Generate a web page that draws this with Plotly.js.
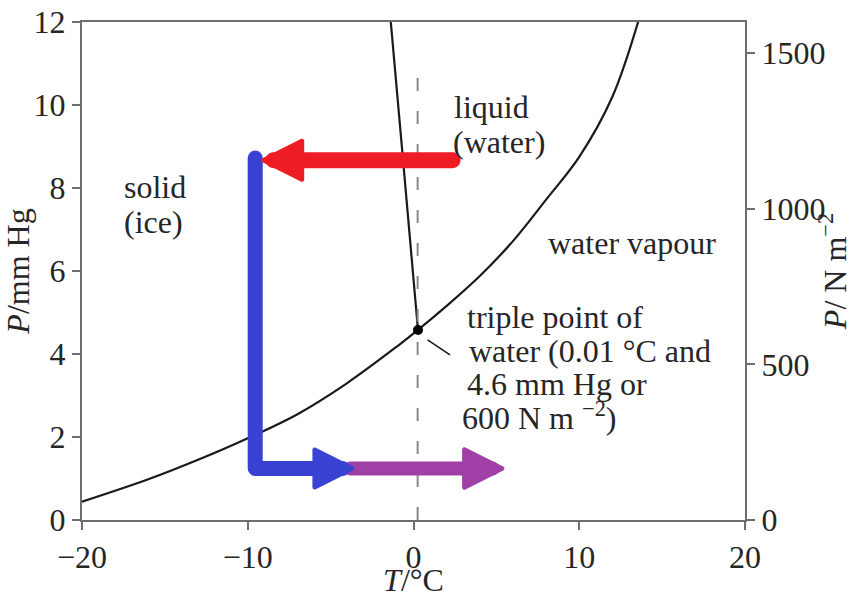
<!DOCTYPE html>
<html>
<head>
<meta charset="utf-8">
<script src="https://cdn.plot.ly/plotly-3.0.1.min.js"></script>
<style>html,body{margin:0;padding:0;background:#fff;}#chart{width:853px;height:598px;}</style>
</head>
<body>
<div id="chart"></div>
<script>
// Sublimation / vaporisation curve (T in °C, P in mm Hg)
const vapT = [-20, -16, -13, -10, -7, -4, -1, 0.27, 2, 4, 6, 8, 10, 12, 13.55];
const vapP = [0.44, 0.98, 1.45, 1.97, 2.55, 3.3, 4.18, 4.58, 5.16, 5.88, 6.72, 7.72, 8.75, 10.2, 12.0];
// Melting (fusion) curve
const meltT = [0.27, -0.63, -1.37];
const meltP = [4.58, 8.67, 12.0];
// Triple point
const tripleT = [0.27];
const tripleP = [4.58];
// Process path (arrows): red cooling at constant P, blue pressure drop then warming, purple warming
const redFrom = [2.45, 8.67], redTo = [-9.05, 8.67];
const blueDownT = [-9.55, -9.55, -6.0];
const blueDownP = [8.72, 1.24, 1.24];
const blueFrom = [-9.55, 1.24], blueTo = [-3.7, 1.24];
const purpleFrom = [-3.9, 1.24], purpleTo = [5.35, 1.24];
// Axis ticks
const xTicks = [-20, -10, 0, 10, 20];
const yTicks = [0, 2, 4, 6, 8, 10, 12];
const y2Ticks = [0, 500, 1000, 1500];
const PA_PER_MMHG = 133.322;

const FONT = '"Liberation Serif", serif';
const TXT = '#262626';
const AX = '#6e6e6e';
const FS = 32;

const traces = [
  {x: vapT, y: vapP, mode: 'lines', line: {color: '#1a1a1a', width: 2.2, shape: 'spline', smoothing: 1}, hoverinfo: 'skip'},
  {x: meltT, y: meltP, mode: 'lines', line: {color: '#1a1a1a', width: 2.2, shape: 'spline'}, hoverinfo: 'skip'},
  {x: blueDownT, y: blueDownP, mode: 'lines', line: {color: '#3a42d4', width: 15}, hoverinfo: 'skip'},
  {x: tripleT, y: tripleP, mode: 'markers', marker: {color: '#000', size: 10}, hoverinfo: 'skip'},
  {x: [0], y: [0], yaxis: 'y2', mode: 'markers', marker: {opacity: 0}, hoverinfo: 'skip'}
];

function arrow(from, to, color, w, size) {
  return {x: to[0], y: to[1], ax: from[0], ay: from[1], xref: 'x', yref: 'y', axref: 'x', ayref: 'y',
    text: '', showarrow: true, arrowhead: 2, arrowsize: size, arrowwidth: w, arrowcolor: color, standoff: 0};
}
function label(t, x, y) {
  return {x: x, y: y, xref: 'x', yref: 'y', text: t, showarrow: false, xanchor: 'left', yanchor: 'middle',
    align: 'left', font: {family: FONT, size: FS, color: TXT}};
}

const annotations = [
  arrow(purpleFrom, purpleTo, '#a040a6', 14, 0.54),
  arrow(blueFrom, blueTo, '#3a42d4', 15, 0.5),
  arrow(redFrom, redTo, '#ee1c24', 16, 0.48),
  label('liquid', 2.35, 9.95),
  label('(water)', 2.25, 9.12),
  label('solid', -17.6, 8.02),
  label('(ice)', -17.6, 7.18),
  label('water vapour', 8.0, 6.67),
  label('triple point of', 3.1, 4.9),
  label('water (0.01 °C and', 3.2, 4.08),
  label('4.6 mm Hg or', 3.1, 3.28),
  label('600 N m <sup>−2</sup>)', 2.8, 2.5)
];

const shapes = [
  {type: 'line', xref: 'x', yref: 'y', x0: 0.25, x1: 0.25, y0: 0, y1: 10.8,
    line: {color: '#888', width: 2, dash: '13px,20px'}},
  {type: 'line', xref: 'x', yref: 'y', x0: 0.85, x1: 2.2, y0: 4.34, y1: 3.98,
    line: {color: '#1a1a1a', width: 1.6}}
];

const layout = {
  width: 853, height: 598,
  margin: {l: 82, r: 108, t: 22, b: 78},
  paper_bgcolor: '#fff', plot_bgcolor: '#fff',
  showlegend: false,
  font: {family: FONT, size: FS, color: TXT},
  xaxis: {range: [-20, 20], tickvals: xTicks, ticktext: xTicks.map(v => v < 0 ? '−' + (-v) : String(v)),
    showgrid: false, zeroline: false, showline: true, linecolor: AX, linewidth: 2, mirror: true,
    ticks: 'outside', ticklen: 8, tickwidth: 2, tickcolor: AX,
    tickfont: {family: FONT, size: FS, color: TXT},
    title: {text: '<i>T</i>/°C', font: {family: FONT, size: FS, color: TXT}, standoff: 0}},
  yaxis: {range: [0, 12], tickvals: yTicks, showgrid: false, zeroline: false, showline: true,
    linecolor: AX, linewidth: 2, ticks: 'outside', ticklen: 8, tickwidth: 2, tickcolor: AX,
    tickfont: {family: FONT, size: FS, color: TXT},
    title: {text: '<i>P</i>/mm Hg', font: {family: FONT, size: FS, color: TXT}, standoff: 2}},
  yaxis2: {range: [0, 12 * PA_PER_MMHG], overlaying: 'y', side: 'right', tickvals: y2Ticks,
    showgrid: false, zeroline: false, showline: true, linecolor: AX, linewidth: 2,
    ticks: 'outside', ticklen: 8, tickwidth: 2, tickcolor: AX,
    tickfont: {family: FONT, size: FS, color: TXT},
    title: {text: '<i>P</i>/ N m<sup>−2</sup>', font: {family: FONT, size: FS, color: TXT}, standoff: 6}},
  annotations: annotations,
  shapes: shapes
};

function roundStrokes(gd) {
  gd.querySelectorAll('.scatterlayer .js-line').forEach(p => {
    p.style.strokeLinecap = 'round';
    p.style.strokeLinejoin = 'round';
  });
  gd.querySelectorAll('.annotation-arrow-g path').forEach(p => {
    const fill = p.style.fill;
    if (fill && fill !== 'none' && fill !== 'transparent') {
      p.style.stroke = fill;
      p.style.strokeWidth = '0.6px';
      p.style.strokeLinejoin = 'round';
    } else {
      p.style.strokeLinecap = 'round';
    }
  });
}

const gd = document.getElementById('chart');
Plotly.newPlot(gd, traces, layout, {displayModeBar: false, staticPlot: true}).then(() => {
  roundStrokes(gd);
  gd.on('plotly_afterplot', () => roundStrokes(gd));
  setTimeout(() => roundStrokes(gd), 30);
});
</script>
</body>
</html>
